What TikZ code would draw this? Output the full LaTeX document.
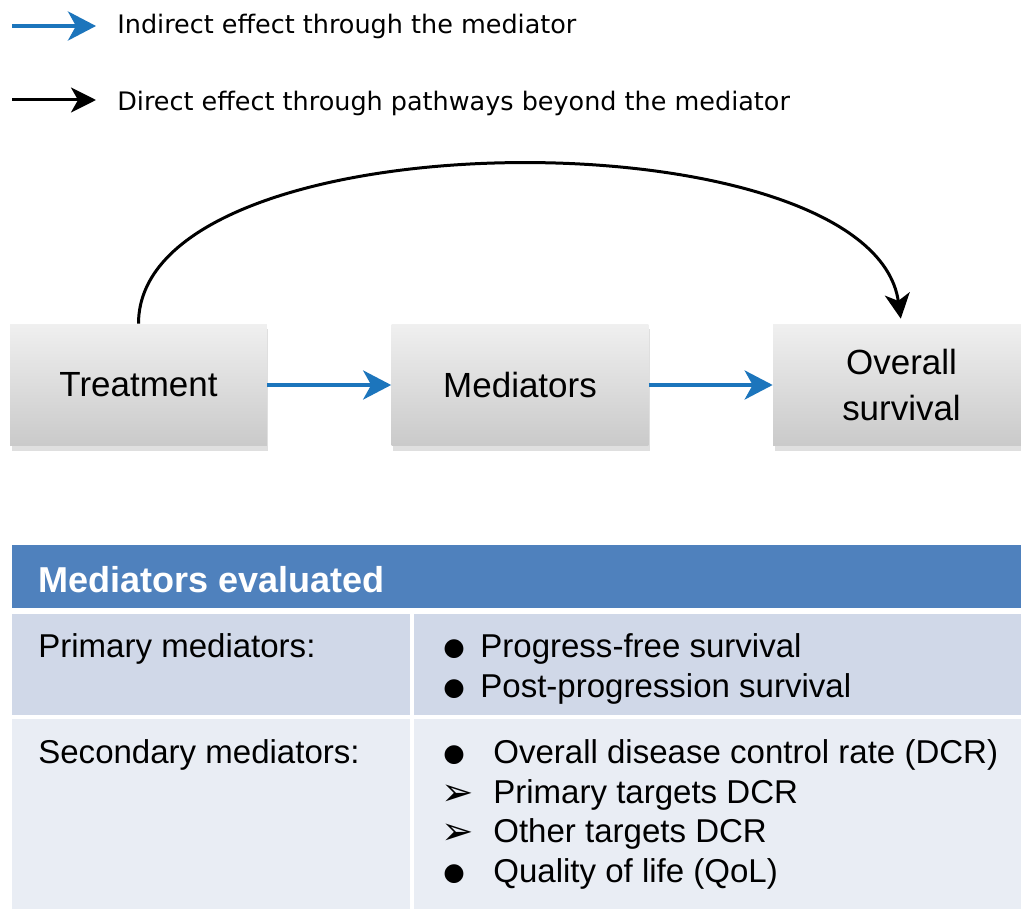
\documentclass[tikz,border=0pt]{standalone}
\usepackage{fontspec}
\setmainfont{Liberation Sans}
\newfontfamily\legendfont{DejaVu Sans}
\newfontfamily\symfont{DejaVu Sans}
\usepackage{tikz}
\usetikzlibrary{positioning,arrows,arrows.meta,shadows}
\usepackage{xcolor}
\definecolor{headblue}{HTML}{4F81BD}
\definecolor{rowdark}{HTML}{D0D8E8}
\definecolor{rowlight}{HTML}{E9EDF4}
\definecolor{arrowblue}{HTML}{1C75BC}

\begin{document}
\begin{tikzpicture}[x=0.02cm,y=-0.02cm,
                    box/.style={rectangle,minimum width=5.14cm,minimum height=2.44cm,
                                top color=gray!12,bottom color=gray!42,
                                drop shadow={shadow xshift=0.03cm,shadow yshift=-0.1cm,opacity=0.25},
                                font=\fontsize{19.9}{26}\selectfont,align=center},
                    indirect/.style={-{Stealth[length=0.56cm,width=0.58cm,inset=0.16cm]},
                                     arrowblue,line width=0.08cm},
                    direct/.style={-{Stealth[length=0.5cm,width=0.5cm,inset=0.14cm]},
                                   black,line width=0.06cm},
                    legend/.style={anchor=base west,inner sep=0pt,
                                   font=\legendfont\fontsize{14.5}{17}\selectfont},
                    cell/.style={anchor=base west,inner sep=0pt,font=\fontsize{18.8}{22}\selectfont},
                    bullet/.style={anchor=base west,inner sep=0pt,font=\symfont\fontsize{14}{18}\selectfont},
                    chevron/.style={anchor=base west,inner sep=0pt,font=\symfont\fontsize{22}{26}\selectfont}]

  \useasboundingbox[fill=white] (0,0) rectangle (1021,909);

  % legend
  \coordinate (ia) at (12,26);
  \coordinate (ib) at (96,26);
  \coordinate (da) at (12,100);
  \coordinate (db) at (96,100);
  \draw[indirect] (ia) -- (ib);
  \draw[direct] (da) -- (db);
  \node[legend] at (117,34) (indtext) {Indirect effect through the mediator};
  \node[legend] at (117,111) (dirtext) {Direct effect through pathways beyond the mediator};

  % boxes
  \node[box] at (138.5,385) (treat) {Treatment};
  \node[box] at (520,385) (med) {Mediators};
  \node[box] at (901.5,385) (os) {Overall\\survival};

  \draw[indirect] (treat) -- (med);
  \draw[indirect] (med) -- (os);
  \draw[direct,shorten >=0.1cm] (treat.north)
        .. controls +(0,-210) and +(-30,-212) .. (os.north);

  % table
  \fill[headblue] (12,545) rectangle (1021,608);
  \fill[rowdark] (12,614) rectangle (1021,715);
  \fill[rowlight] (12,719) rectangle (1021,909);
  \draw[white,line width=0.08cm] (412,614) -- (412,909);

  \node[cell,text=white,font=\bfseries\fontsize{20.5}{24}\selectfont] at (38,592) (head) {Mediators evaluated};

  \node[cell] at (38,657) (prim) {Primary mediators:};
  \node[bullet] at (443,655) (b1) {●};
  \node[cell] at (480,657) (pfs) {Progress-free survival};
  \node[bullet] at (443,695) (b2) {●};
  \node[cell] at (480,697) (pps) {Post-progression survival};

  \node[cell] at (38,763) (sec) {Secondary mediators:};
  \node[bullet] at (443,761) (b3) {●};
  \node[cell] at (493,763) (dcr) {Overall disease control rate (DCR)};
  \node[chevron] at (441,805) (b4) {➢};
  \node[cell] at (493,803) (ptd) {Primary targets DCR};
  \node[chevron] at (441,844) (b5) {➢};
  \node[cell] at (493,842) (otd) {Other targets DCR};
  \node[bullet] at (443,880) (b6) {●};
  \node[cell] at (493,882) (qol) {Quality of life (QoL)};

\end{tikzpicture}
\end{document}
